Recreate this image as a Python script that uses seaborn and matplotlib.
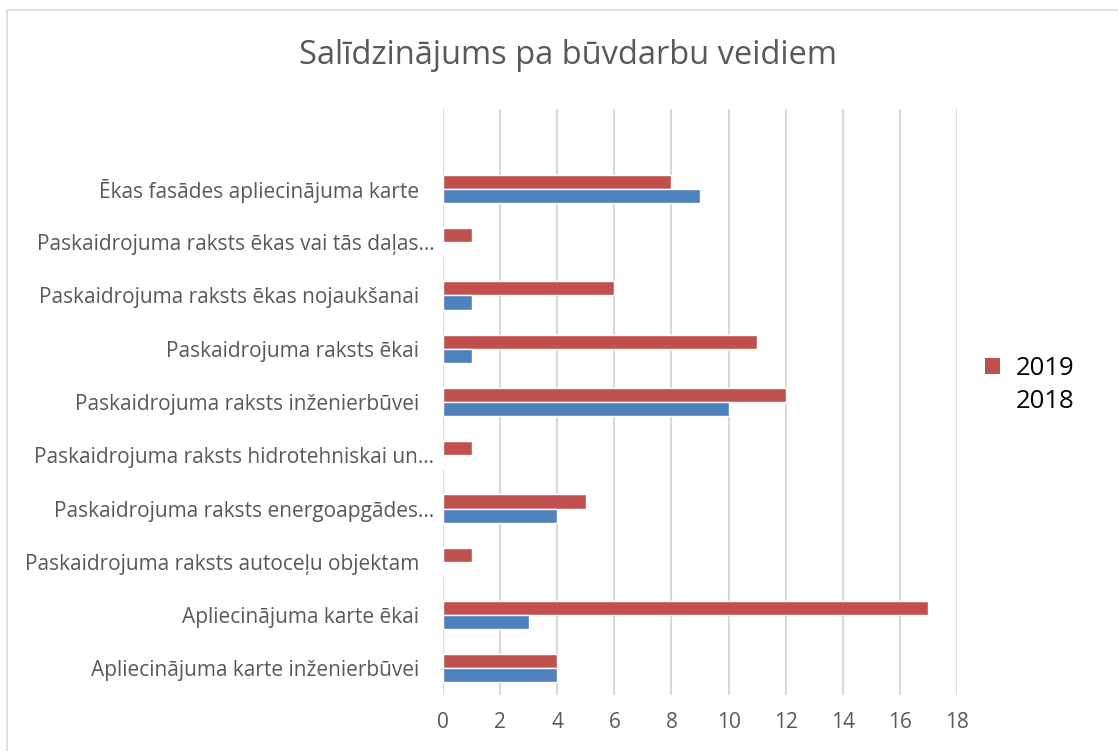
import pandas as pd
import matplotlib
matplotlib.use("Agg")
import matplotlib.pyplot as plt
import matplotlib.transforms as mtransforms
import seaborn as sns
from matplotlib.patches import Rectangle, Patch

categories = [
    "Ēkas fasādes apliecinājuma karte",
    "Paskaidrojuma raksts ēkas vai tās daļas…",
    "Paskaidrojuma raksts ēkas nojaukšanai",
    "Paskaidrojuma raksts ēkai",
    "Paskaidrojuma raksts inženierbūvei",
    "Paskaidrojuma raksts hidrotehniskai un…",
    "Paskaidrojuma raksts energoapgādes…",
    "Paskaidrojuma raksts autoceļu objektam",
    "Apliecinājuma karte ēkai",
    "Apliecinājuma karte inženierbūvei",
]
values_2019 = [8, 1, 6, 11, 12, 1, 5, 1, 17, 4]
values_2018 = [9, 0, 1, 1, 10, 0, 4, 0, 3, 4]
years = ["2019", "2018"]
x_ticks = list(range(0, 19, 2))

RED = "#C0504D"
BLUE = "#4F81BD"
GRID = "#D9D9D9"
TEXT = "#595959"

df = pd.DataFrame({
    "kategorija": categories * 2,
    "vērtība": values_2019 + values_2018,
    "gads": ["2019"] * len(categories) + ["2018"] * len(categories),
})

sns.set_style("white")
plt.rcParams["font.family"] = ["Open Sans", "DejaVu Sans"]

fig = plt.figure(figsize=(11.18, 7.51), dpi=100)
ax = fig.add_axes([443 / 1118, 1 - 695 / 751, 514 / 1118, 586 / 751])

sns.barplot(data=df, x="vērtība", y="kategorija", hue="gads", hue_order=years,
            order=categories, palette={"2019": RED, "2018": BLUE}, saturation=1,
            width=0.53, orient="h", ax=ax, legend=False)

ax.set_xlim(0, 18)
ax.set_ylim(9.5, -1.5)
ax.set_xticks(x_ticks)
ax.set_xlabel("")
ax.set_ylabel("")
ax.grid(axis="x", color=GRID, linewidth=1.5)
ax.set_axisbelow(True)
for s in ax.spines.values():
    s.set_visible(False)
ax.tick_params(axis="both", length=0, labelcolor=TEXT, labelsize=15)
ax.tick_params(axis="x", pad=12)
ax.tick_params(axis="y", pad=17)

# zīmes ar daudzpunkti Excel novieto tuvāk asij
shift = mtransforms.ScaledTranslation(15 / 100, 0, fig.dpi_scale_trans)
for lbl in ax.get_yticklabels():
    if lbl.get_text().endswith("…"):
        lbl.set_transform(lbl.get_transform() + shift)

fig.text(0.508, 0.926, "Salīdzinājums pa būvdarbu veidiem", ha="center", va="center",
         fontsize=23.5, color=TEXT)

handles = [Patch(facecolor=RED, edgecolor="none"), Patch(facecolor="none", edgecolor="none")]
fig.legend(handles, years, loc="center left", bbox_to_anchor=(0.86, 0.487), frameon=False,
           fontsize=18.5, handlelength=0.6, handleheight=0.6, handletextpad=0.6,
           labelspacing=0.32, labelcolor="black")

fig.patches.append(Rectangle((7 / 1118, -0.1), 1.2, 1.1 - 10 / 751, transform=fig.transFigure,
                             facecolor="none", edgecolor=GRID, linewidth=1.2))

fig.savefig("out.png", dpi=100)
